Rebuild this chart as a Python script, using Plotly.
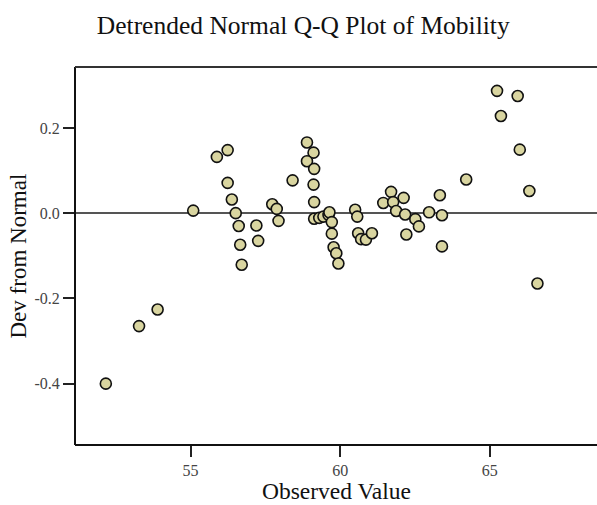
import plotly.graph_objects as go

observed = [52.17, 53.28, 53.90, 55.09, 55.88, 56.24, 56.24, 56.38, 56.51, 56.61,
            56.66, 56.71, 57.20, 57.26, 57.73, 57.88, 57.94, 58.41, 58.89, 59.11,
            58.89, 59.13, 59.11, 59.13, 59.13, 59.30, 59.44, 59.61, 59.64, 59.72,
            59.72, 59.78, 59.87, 59.94, 60.50, 60.57, 60.60, 60.70, 60.86, 61.06,
            61.44, 61.70, 61.77, 62.12, 61.87, 62.17, 62.21, 62.51, 62.63, 62.97,
            63.33, 63.40, 63.40, 64.21, 65.24, 65.93, 65.37, 66.00, 66.32, 66.59]
dev_from_normal = [-0.400, -0.265, -0.226, 0.006, 0.132, 0.148, 0.071, 0.032, 0.000, -0.030,
                   -0.074, -0.121, -0.029, -0.065, 0.021, 0.010, -0.018, 0.077, 0.166, 0.142,
                   0.122, 0.104, 0.067, 0.026, -0.013, -0.011, -0.008, -0.004, 0.002, -0.021,
                   -0.048, -0.080, -0.094, -0.118, 0.008, -0.008, -0.047, -0.061, -0.062, -0.047,
                   0.024, 0.050, 0.026, 0.036, 0.005, -0.003, -0.050, -0.014, -0.031, 0.002,
                   0.042, -0.005, -0.078, 0.079, 0.287, 0.275, 0.228, 0.149, 0.052, -0.165]

x_ticks = [55, 60, 65]
y_ticks = [-0.4, -0.2, 0.0, 0.2]
y_tick_labels = ["-0.4", "-0.2", "0.0", "0.2"]

SERIF = "Liberation Serif, Times New Roman, serif"

fig = go.Figure()
fig.add_trace(go.Scatter(
    x=observed, y=dev_from_normal, mode="markers",
    marker=dict(size=11, color="#d9d5a0", line=dict(color="#111111", width=1.6)),
    hoverinfo="x+y", showlegend=False, cliponaxis=False,
))

fig.update_layout(
    width=597, height=505,
    margin=dict(l=75, r=0, t=67, b=60),
    paper_bgcolor="white", plot_bgcolor="white",
    title=dict(text="Detrended Normal Q-Q Plot of Mobility", x=0.508, xanchor="center",
               y=1 - 25 / 505, yanchor="middle", yref="container",
               font=dict(family=SERIF, size=25.5, color="#111111")),
    xaxis=dict(range=[51.14, 68.58], tickvals=x_ticks, ticktext=[str(v) for v in x_ticks],
               showgrid=False, zeroline=False, showline=False,
               ticks="outside", ticklen=11, tickwidth=2, tickcolor="#222222",
               tickfont=dict(family=SERIF, size=16, color="#444444")),
    yaxis=dict(range=[-0.544, 0.343], tickvals=y_ticks, ticktext=y_tick_labels,
               showgrid=False, zeroline=True, zerolinecolor="#555555", zerolinewidth=2,
               showline=False,
               ticks="outside", ticklen=11, tickwidth=2, tickcolor="#222222",
               tickfont=dict(family=SERIF, size=16, color="#444444")),
    annotations=[
        dict(text="Observed Value", xref="paper", yref="paper", x=0.5, y=-46 / 378,
             xanchor="center", yanchor="middle", showarrow=False,
             font=dict(family=SERIF, size=23.5, color="#111111")),
        dict(text="Dev from Normal", xref="paper", yref="paper", x=-57.5 / 522, y=0.5,
             xanchor="center", yanchor="middle", showarrow=False, textangle=-90,
             font=dict(family=SERIF, size=23, color="#111111")),
    ],
    shapes=[
        dict(type="line", xref="paper", yref="paper", x0=0, x1=0, y0=0, y1=1,
             line=dict(color="#111111", width=2)),
        dict(type="line", xref="paper", yref="paper", x0=0, x1=1, y0=0, y1=0,
             line=dict(color="#111111", width=2)),
        dict(type="line", xref="paper", yref="paper", x0=0, x1=1, y0=1, y1=1,
             line=dict(color="#333333", width=2)),
    ],
)

fig.write_html("out.html")
